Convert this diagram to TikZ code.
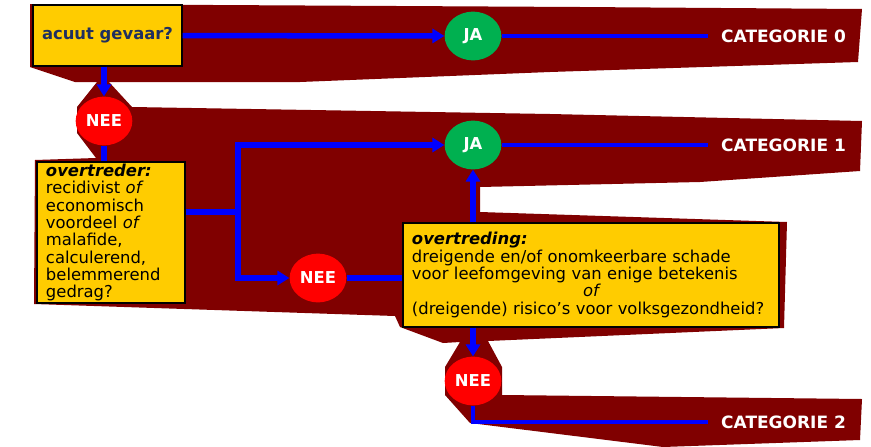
\documentclass[tikz,border=0pt]{standalone}
\usepackage{fontspec}
\setmainfont{DejaVu Sans}
\usetikzlibrary{arrows.meta,shapes.geometric}

\definecolor{bandred}{HTML}{800000}
\definecolor{boxyellow}{HTML}{FFCC00}
\definecolor{jagreen}{HTML}{00B050}
\definecolor{neered}{HTML}{FF0000}
\definecolor{flowblue}{HTML}{0000FF}
\definecolor{navy}{HTML}{1F2F60}

\begin{document}
\begin{tikzpicture}[x=0.03cm, y=-0.03cm,
  font=\fontsize{14}{14.8}\selectfont,
  question/.style={draw=black, line width=1.1pt, fill=boxyellow, inner sep=0pt, align=left},
  jacirc/.style={ellipse, fill=jagreen, text=white, inner sep=0pt,
    minimum width=1.7cm, minimum height=1.46cm, font=\fontsize{14}{14}\selectfont\bfseries},
  neecirc/.style={jacirc, fill=neered},
  cat/.style={anchor=west, text=white, inner xsep=0.39cm, font=\fontsize{14.5}{14}\selectfont\bfseries},
  lnk/.style={draw=flowblue, line width=4.7pt},
  arr/.style={lnk, -{Triangle[length=0.36cm, width=0.42cm]}},
  thinlnk/.style={draw=flowblue, line width=3pt},
]
\useasboundingbox (0,0) rectangle (871,446);

% ribbons
\fill[bandred] (30,4) -- (580,7) -- (862,9) -- (858,62) -- (550,72) -- (300,82)
  -- (75,82) -- (30,67) -- cycle;
\fill[bandred] (97,82) -- (109,82) -- (132,107) -- (550,114) -- (862,121) -- (860,171)
  -- (700,182) -- (480,187) -- (480,212) -- (787,222) -- (784,328) -- (488,341)
  -- (502,367) -- (502,395) -- (862,399) -- (860,440) -- (663,447) -- (470,423)
  -- (445,395) -- (445,367) -- (460,342) -- (443,343) -- (400,327) -- (395,316)
  -- (34,304) -- (35,160) -- (96,158) -- (77,133) -- (77,107) -- cycle;

\node[question, minimum width=4.47cm, minimum height=1.83cm, text=navy, font=\fontsize{14}{14.8}\selectfont\bfseries]
  (acuut) at (107.5,35.5) {acuut gevaar?};

\node[jacirc] (ja0) at (473,36) {JA};
\node[jacirc] (ja1) at (473,145) {JA};
\node[neecirc] (nee1) at (104,121) {NEE};
\node[neecirc] (nee2) at (318,278) {NEE};
\node[neecirc] (nee3) at (473,381) {NEE};

\node[cat] (cat0) at (708,36) {CATEGORIE 0};
\node[cat] (cat1) at (708,145) {CATEGORIE 1};
\node[cat] (cat2) at (708,422) {CATEGORIE 2};

\node[question, minimum width=4.44cm, minimum height=4.23cm, text width=3.9cm]
  (overtreder) at (111,232.5) {%
  \textbf{\textit{overtreder:}}\\
  recidivist \textit{of}\\
  economisch\\
  voordeel \textit{of}\\
  malafide,\\
  calculerend,\\
  belemmerend\\
  gedrag?};

\node[question, minimum width=11.28cm, minimum height=3.12cm, text width=10.74cm]
  (overtreding) at (591,275) {%
  \textbf{\textit{overtreding:}}\\
  dreigende en/of onomkeerbare schade\\
  voor leefomgeving van enige betekenis\\
  \hspace*{5.13cm}\textit{of}\\
  (dreigende) risico’s voor volksgezondheid?};

\coordinate (split) at (238,212);

\draw[arr] (acuut) -- (ja0);
\draw[thinlnk] (ja0) -- (cat0);
\draw[thinlnk] (ja1) -- (cat1);
\draw[arr] (nee1 |- acuut.south) -- (nee1);
\draw[lnk] (nee1) -- (nee1 |- overtreder.north);
\draw[lnk] (overtreder.east |- split) -- (split);
\draw[arr] (split) |- (ja1);
\draw[arr] (split) |- (nee2);
\draw[lnk] (nee2) -- (nee2 -| overtreding.west);
\draw[arr] (ja1 |- overtreding.north) -- (ja1);
\draw[arr] (nee3 |- overtreding.south) -- (nee3);
\draw[thinlnk] (nee3) |- (cat2);

\end{tikzpicture}
\end{document}
